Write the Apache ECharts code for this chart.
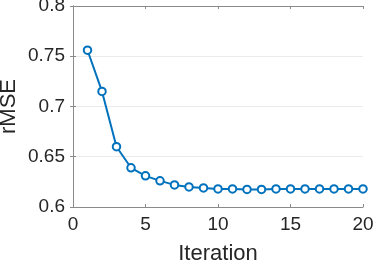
<!DOCTYPE html>
<html><head><meta charset="utf-8">
<script src="https://cdn.jsdelivr.net/npm/echarts@6/dist/echarts.min.js"></script>
<style>html,body{margin:0;padding:0;background:#fff}#c{width:374px;height:265px}</style>
</head><body><div id="c"></div>
<script>
const iterations = [1,2,3,4,5,6,7,8,9,10,11,12,13,14,15,16,17,18,19,20];
const rmse = [0.756,0.715,0.660,0.639,0.631,0.626,0.622,0.620,0.619,0.618,0.618,0.6175,0.6175,0.618,0.618,0.618,0.618,0.618,0.618,0.618];
const xTicks = [0,5,10,15,20];
const yTicks = [0.6,0.65,0.7,0.75,0.8];
const xLabel = 'Iteration';
const yLabel = 'rMSE';

const chart = echarts.init(document.getElementById('c'), null, {renderer:'canvas'});
const font = 'Liberation Sans, Arial, Helvetica, sans-serif';
const axisCol = '#8a8a8a';
const txtCol = '#262626';
const data = iterations.map((x,i)=>[x, rmse[i]]);
chart.setOption({
  animation:false,
  grid:{left:73,right:11,top:6,bottom:58,containLabel:false,outerBoundsMode:'none'},
  xAxis:[{
    type:'value',min:0,max:20,interval:5,
    name:xLabel,nameLocation:'middle',nameGap:36,nameMoveOverlap:false,
    nameTextStyle:{fontFamily:font,fontSize:22,color:txtCol},
    axisLine:{show:true,lineStyle:{color:axisCol,width:1}},
    axisTick:{show:true,inside:true,length:3,lineStyle:{color:axisCol}},
    axisLabel:{fontFamily:font,fontSize:19,color:txtCol,margin:8,formatter:v=>String(v)},
    splitLine:{show:false}
  },{
    type:'value',min:0,max:20,interval:5,position:'top',
    axisLine:{show:true,lineStyle:{color:axisCol,width:1}},
    axisTick:{show:true,inside:true,length:3,lineStyle:{color:axisCol}},
    axisLabel:{show:false},splitLine:{show:false}
  }],
  yAxis:[{
    type:'value',min:0.6,max:0.8,interval:0.05,
    name:yLabel,nameLocation:'middle',nameGap:53,nameMoveOverlap:false,
    nameTextStyle:{fontFamily:font,fontSize:22,color:txtCol},
    axisLine:{show:true,lineStyle:{color:axisCol,width:1}},
    axisTick:{show:true,inside:true,length:3,lineStyle:{color:axisCol}},
    axisLabel:{fontFamily:font,fontSize:19,color:txtCol,margin:8,
      formatter:v=>{const t=yTicks.find(k=>Math.abs(k-v)<1e-9);return t===undefined?'':String(t);}},
    splitLine:{show:true,lineStyle:{color:'#ebebeb',width:1}}
  },{
    type:'value',min:0.6,max:0.8,interval:0.05,position:'right',
    axisLine:{show:true,lineStyle:{color:axisCol,width:1}},
    axisTick:{show:true,inside:true,length:3,lineStyle:{color:axisCol}},
    axisLabel:{show:false},splitLine:{show:false}
  }],
  series:[{
    type:'line',data:data,xAxisIndex:0,yAxisIndex:0,
    lineStyle:{color:'#0072BD',width:2},
    symbol:'circle',symbolSize:7.5,
    itemStyle:{color:'#ffffff',borderColor:'#0072BD',borderWidth:2},
    z:5
  }]
});
</script></body></html>
